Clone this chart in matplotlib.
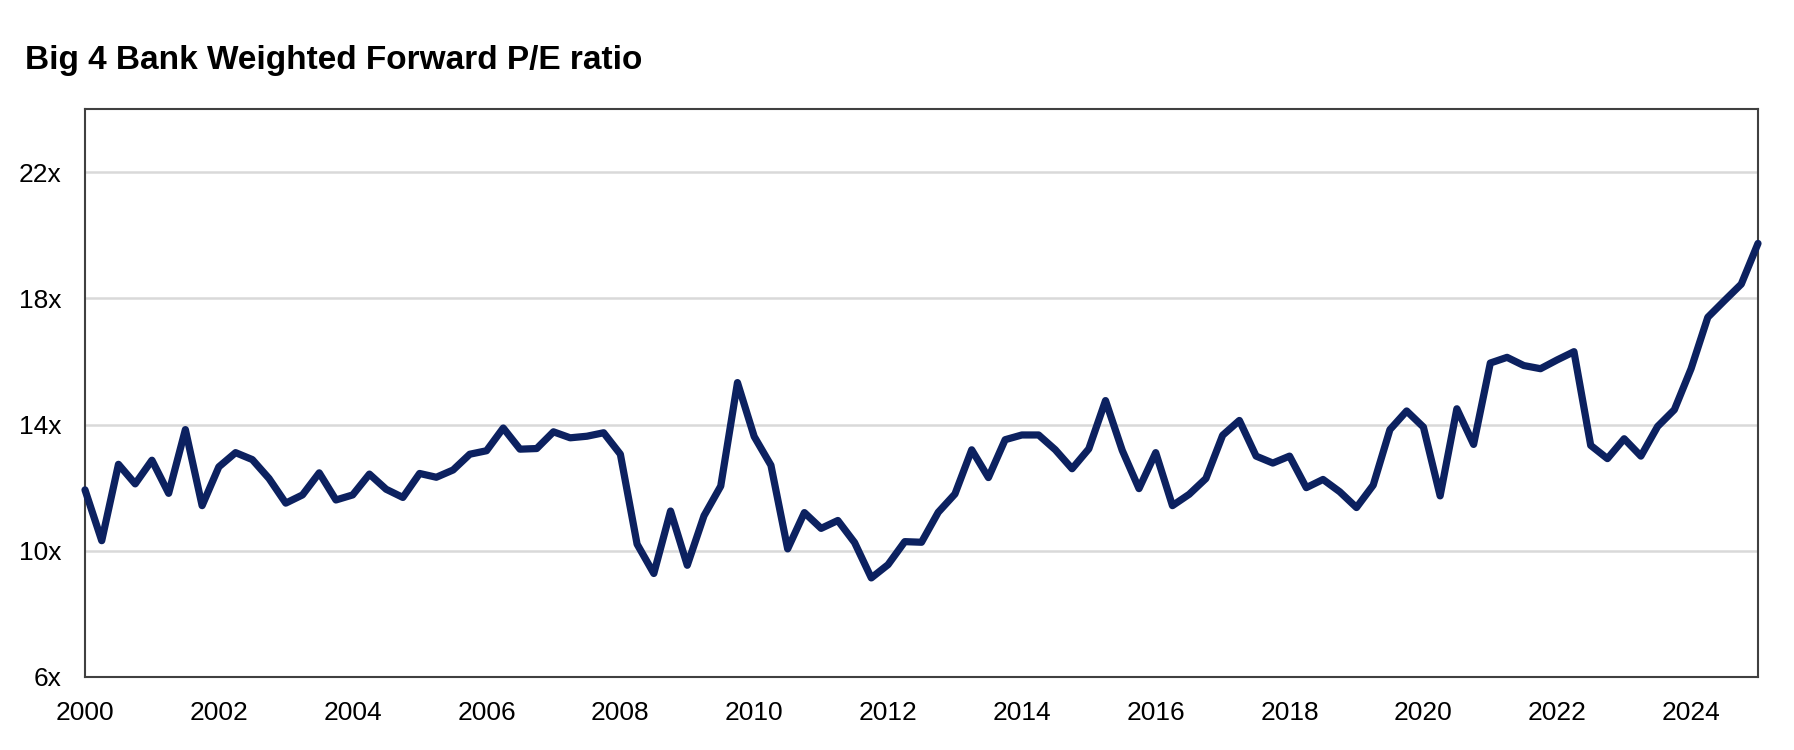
import numpy as np
import matplotlib
matplotlib.use("Agg")
import matplotlib.pyplot as plt

plt.rcParams['font.family'] = ['Liberation Sans', 'DejaVu Sans']

title = "Big 4 Bank Weighted Forward P/E ratio"

start_year = 2000.0
quarter_step = 0.25

pe_ratio = [
    11.93, 10.32, 12.74, 12.12, 12.87, 11.82, 13.84, 11.43,   # 2000-2001
    12.66, 13.11, 12.89, 12.29, 11.51, 11.77, 12.47, 11.61,   # 2002-2003
    11.77, 12.43, 11.95, 11.69, 12.45, 12.33, 12.56, 13.06,   # 2004-2005
    13.17, 13.89, 13.22, 13.24, 13.77, 13.58, 13.63, 13.74,   # 2006-2007
    13.06, 10.21, 9.28, 11.26, 9.54, 11.11, 12.05, 15.33,     # 2008-2009
    13.62, 12.71, 10.06, 11.21, 10.71, 10.96, 10.26, 9.14,    # 2010-2011
    9.56, 10.29, 10.27, 11.22, 11.80, 13.20, 12.32, 13.52,    # 2012-2013
    13.67, 13.67, 13.20, 12.60, 13.23, 14.76, 13.18, 11.97,   # 2014-2015
    13.11, 11.43, 11.79, 12.29, 13.66, 14.13, 13.00, 12.78,   # 2016-2017
    13.00, 12.00, 12.26, 11.87, 11.37, 12.08, 13.84, 14.43,   # 2018-2019
    13.92, 11.74, 14.50, 13.37, 15.95, 16.13, 15.87, 15.77,   # 2020-2021
    16.05, 16.31, 13.34, 12.92, 13.55, 13.00, 13.94, 14.47,   # 2022-2023
    15.77, 17.40, 17.93, 18.45, 19.74,                        # 2024-2025
]

y_ticks = [6, 10, 14, 18, 22]
y_tick_labels = ["6x", "10x", "14x", "18x", "22x"]
x_ticks = list(range(2000, 2025, 2))
x_tick_labels = [str(y) for y in x_ticks]

dates = start_year + quarter_step * np.arange(len(pe_ratio))

W, H = 1794, 750
fig = plt.figure(figsize=(W / 100, H / 100), dpi=100)
left, right, top, bottom = 85, 1758, 109, 677
ax = fig.add_axes([left / W, (H - bottom) / H, (right - left) / W, (bottom - top) / H])

for yv in y_ticks[1:]:
    ax.axhline(yv, color="#d9d9d9", lw=1.8, zorder=1)

ax.plot(dates, pe_ratio, color="#0c2160", lw=5.2, solid_joinstyle="round",
        solid_capstyle="round", zorder=3, clip_on=False)

ax.set_xlim(2000, 2025)
ax.set_ylim(6, 24)
ax.set_yticks(y_ticks)
ax.set_yticklabels(y_tick_labels)
ax.set_xticks(x_ticks)
ax.set_xticklabels(x_tick_labels)
ax.tick_params(axis="both", length=0, labelsize=19, colors="black")
ax.tick_params(axis="y", pad=17)
ax.tick_params(axis="x", pad=17)

for s in ax.spines.values():
    s.set_color("#404040")
    s.set_linewidth(1.5)

fig.text(25 / W, 1 - 60 / H, title, fontsize=24, fontweight="bold",
         ha="left", va="center", color="black")

fig.savefig("out.png", dpi=100, facecolor="white")
